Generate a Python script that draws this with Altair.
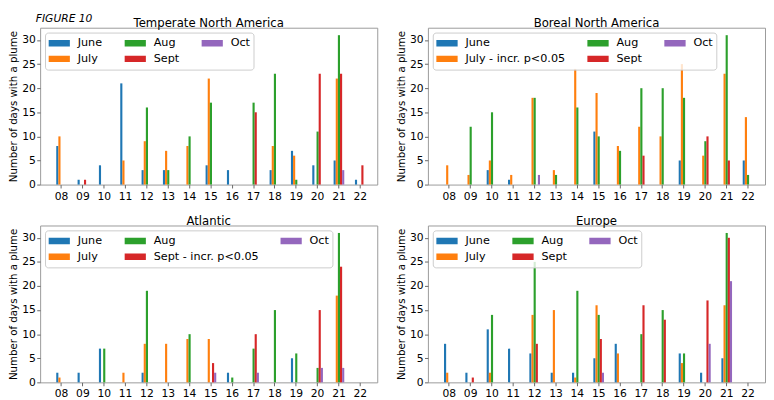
import altair as alt
import pandas as pd

years = ["08", "09", "10", "11", "12", "13", "14", "15", "16", "17", "18", "19", "20", "21", "22"]
months = ["June", "July", "Aug", "Sept", "Oct"]
colors = ["#1f77b4", "#ff7f0e", "#2ca02c", "#d62728", "#9467bd"]

# Temperate North America
tna_june = [8, 1, 4, 21, 3, 3, 0, 4, 3, 0, 3, 7, 4, 5, 1]
tna_july = [10, 0, 0, 5, 9, 7, 8, 22, 0, 0, 8, 6, 0, 22, 0]
tna_aug = [0, 0, 0, 0, 16, 3, 10, 17, 0, 17, 23, 1, 11, 31, 0]
tna_sept = [0, 1, 0, 0, 0, 0, 0, 0, 0, 15, 0, 0, 23, 23, 4]
tna_oct = [0, 0, 0, 0, 0, 0, 0, 0, 0, 0, 0, 0, 0, 3, 0]
tna_labels = ["June", "July", "Aug", "Sept", "Oct"]

# Boreal North America
bna_june = [0, 0, 3, 1, 0, 0, 0, 11, 0, 0, 0, 5, 0, 0, 5]
bna_july = [4, 2, 5, 2, 18, 3, 24, 19, 8, 12, 10, 25, 6, 23, 14]
bna_aug = [0, 12, 15, 0, 18, 2, 16, 10, 7, 20, 20, 18, 9, 31, 2]
bna_sept = [0, 0, 0, 0, 0, 0, 0, 0, 0, 6, 0, 0, 10, 5, 0]
bna_oct = [0, 0, 0, 0, 2, 0, 0, 0, 0, 0, 0, 0, 0, 0, 0]
bna_labels = ["June", "July - incr. p<0.05", "Aug", "Sept", "Oct"]

# Atlantic
atl_june = [2, 2, 7, 0, 2, 0, 0, 0, 2, 0, 0, 5, 0, 0, 0]
atl_july = [1, 0, 0, 2, 8, 8, 9, 9, 0, 0, 0, 0, 0, 18, 0]
atl_aug = [0, 0, 7, 0, 19, 0, 10, 0, 1, 7, 15, 6, 3, 31, 0]
atl_sept = [0, 0, 0, 0, 0, 0, 0, 4, 0, 10, 0, 0, 15, 24, 0]
atl_oct = [0, 0, 0, 0, 0, 0, 0, 2, 0, 2, 0, 0, 3, 3, 0]
atl_labels = ["June", "July", "Aug", "Sept - incr. p<0.05", "Oct"]

# Europe
eur_june = [8, 2, 11, 7, 6, 2, 2, 5, 8, 0, 0, 6, 2, 5, 0]
eur_july = [2, 0, 2, 0, 14, 15, 1, 16, 6, 0, 0, 4, 0, 16, 0]
eur_aug = [0, 0, 14, 0, 25, 0, 19, 14, 0, 10, 15, 6, 0, 31, 0]
eur_sept = [0, 1, 0, 0, 8, 0, 0, 9, 0, 16, 13, 0, 17, 30, 0]
eur_oct = [0, 0, 0, 0, 0, 0, 0, 2, 0, 0, 0, 0, 8, 21, 0]
eur_labels = ["June", "July", "Aug", "Sept", "Oct"]

ytick_values = [0, 5, 10, 15, 20, 25, 30]


def make_panel(title, series, labels):
    rows = []
    for m, lab, vals in zip(months, labels, series):
        for yr, v in zip(years, vals):
            rows.append({"year": yr, "month": m, "label": lab, "value": v})
    df = pd.DataFrame(rows)
    return (
        alt.Chart(df, title=alt.TitleParams(title, fontSize=12, fontWeight="normal", offset=-2, color="black"))
        .mark_bar()
        .encode(
            x=alt.X(
                "year:N",
                sort=years,
                scale=alt.Scale(paddingInner=0.5, paddingOuter=0.65, align=0.58),
                axis=alt.Axis(title=None, labelAngle=0, labelPadding=2.5),
            ),
            xOffset=alt.XOffset("month:N", sort=months, scale=alt.Scale(paddingInner=0, paddingOuter=0)),
            y=alt.Y(
                "value:Q",
                scale=alt.Scale(domain=[0, 32.55], nice=False, zero=True),
                axis=alt.Axis(title="Number of days with a plume", values=ytick_values),
            ),
            color=alt.Color(
                "label:N",
                scale=alt.Scale(domain=labels, range=colors),
                legend=alt.Legend(
                    title=None,
                    orient="top-left",
                    offset=5,
                    columns=3,
                    symbolType="M-1,-0.3H1V0.3H-1Z",
                    symbolSize=484,
                    symbolStrokeWidth=0,
                    clipHeight=15,
                    labelFontSize=11.5,
                    labelOffset=8,
                    columnPadding=22,
                    rowPadding=1,
                    padding=3.5,
                    fillColor="rgba(255,255,255,0.8)",
                    strokeColor="#cccccc",
                    cornerRadius=3,
                    labelColor="black",
                ),
            ),
        )
        .properties(width=346, height=161)
    )


p1 = make_panel("Temperate North America", [tna_june, tna_july, tna_aug, tna_sept, tna_oct], tna_labels)
p2 = make_panel("Boreal North America", [bna_june, bna_july, bna_aug, bna_sept, bna_oct], bna_labels)
p3 = make_panel("Atlantic", [atl_june, atl_july, atl_aug, atl_sept, atl_oct], atl_labels)
p4 = make_panel("Europe", [eur_june, eur_july, eur_aug, eur_sept, eur_oct], eur_labels)

top = alt.hconcat(p1, p2, spacing=18).resolve_scale(color="independent").resolve_legend(color="independent")
bottom = alt.hconcat(p3, p4, spacing=18).resolve_scale(color="independent").resolve_legend(color="independent")

chart = (
    alt.vconcat(top, bottom, spacing=12)
    .resolve_scale(color="independent")
    .resolve_legend(color="independent")
    .properties(
        title=alt.TitleParams(
            "FIGURE 10", anchor="start", fontStyle="italic", fontWeight="normal", fontSize=11, dx=28, offset=-8, color="black"
        ),
        padding=0,
    )
    .configure(font="DejaVu Sans")
    .configure_view(stroke="#999999", strokeWidth=1)
    .configure_axis(
        grid=False,
        domain=False,
        labelFontSize=11,
        labelColor="black",
        tickColor="#666666",
        tickSize=3.5,
        labelPadding=1.5,
        titleFontSize=10.5,
        titleFontWeight="normal",
        titleColor="black",
        titlePadding=3,
    )
)

chart.save("out.html", embed_options={"renderer": "svg", "actions": False})
